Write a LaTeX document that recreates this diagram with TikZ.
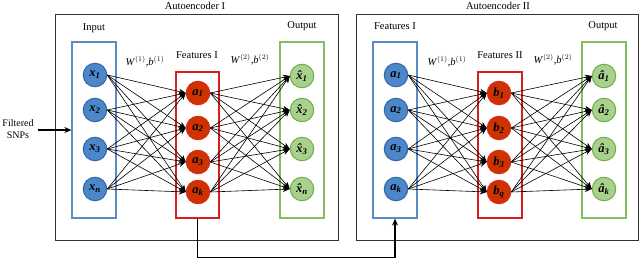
\documentclass[tikz,border=0pt]{standalone}
\usepackage{fontspec}
\setmainfont{Liberation Serif}
\usetikzlibrary{arrows.meta}
\definecolor{bluef}{HTML}{4C87C9}
\definecolor{bluel}{HTML}{2F67A8}
\definecolor{blueb}{HTML}{5B8CC4}
\definecolor{redf}{HTML}{CC3300}
\definecolor{redl}{HTML}{E02A1A}
\definecolor{redb}{HTML}{D91E1E}
\definecolor{greenf}{HTML}{A9D18E}
\definecolor{greenl}{HTML}{6FAE48}
\definecolor{greenb}{HTML}{82BE5E}
\tikzset{
  neuron/.style={circle,minimum size=23.5pt,inner sep=0pt,line width=1pt,font=\bfseries\itshape\fontsize{12.5}{13}\selectfont},
  bn/.style={neuron,draw=bluel,fill=bluef},
  rn/.style={neuron,draw=redl,fill=redf},
  gn/.style={neuron,draw=greenl,fill=greenf},
  layerbox/.style={draw,line width=1.2pt,minimum width=44pt},
  aebox/.style={draw=black!80,line width=1pt,minimum width=283pt,minimum height=225pt},
  lbl/.style={font=\fontsize{10.5}{12}\selectfont},
  edge/.style={-{Stealth[length=7pt,width=5.5pt]},line width=0.6pt},
  link/.style={line width=1.1pt},
}
\newcommand{\hatt}[1]{\^{#1}}
\begin{document}
\begin{tikzpicture}[x=1pt,y=-1pt]
\useasboundingbox (0,0) rectangle (640,259);
% Autoencoder I
\node[aebox] (ae1) at (196.5,127.5) {};
\node[lbl] (t1) at (195,6) {Autoencoder I};
\node[layerbox,draw=blueb,minimum height=176pt] (inbox) at (94,130) {};
\node[layerbox,draw=redb,minimum height=146pt,minimum width=43pt] (fbox) at (197.5,145) {};
\node[layerbox,draw=greenb,minimum height=176pt] (obox) at (302,130) {};
\node[lbl] (lin) at (94,28) {Input};
\node[lbl] (lf) at (197,55) {Features I};
\node[lbl] (lo) at (302,26) {Output};
\node[lbl] (w1) at (145,62) {\textit{W}$^{(1)}$,\textit{b}$^{(1)}$};
\node[lbl] (w2) at (250,60) {\textit{W}$^{(2)}$,\textit{b}$^{(2)}$};
\node[bn] (x1) at (95,75) {x\textsubscript{1}};
\node[bn] (x2) at (95,110) {x\textsubscript{2}};
\node[bn] (x3) at (95,149) {x\textsubscript{3}};
\node[bn] (x4) at (95,189) {x\textsubscript{n}};
\node[rn] (a1) at (198,93) {a\textsubscript{1}};
\node[rn] (a2) at (198,128) {a\textsubscript{2}};
\node[rn] (a3) at (198,162) {a\textsubscript{3}};
\node[rn] (a4) at (198,192) {a\textsubscript{k}};
\node[gn] (y1) at (302,76) {\hatt{x}\textsubscript{1}};
\node[gn] (y2) at (302,110) {\hatt{x}\textsubscript{2}};
\node[gn] (y3) at (302,149) {\hatt{x}\textsubscript{3}};
\node[gn] (y4) at (302,189) {\hatt{x}\textsubscript{n}};
\foreach \i in {1,...,4}{\foreach \j in {1,...,4}{
  \draw[edge] (x\i.east) -- (a\j.west);
  \draw[edge] (a\i.east) -- (y\j.west);
}}
\node[lbl,align=center,font=\fontsize{10}{12.5}\selectfont] (snp) at (18,129) {Filtered\\SNPs};
\coordinate (snpe) at (38,130);
\draw[link,-{Stealth[length=7pt,width=6pt]}] (snpe) -- (inbox.west |- snpe);
% Autoencoder II
\node[aebox,minimum width=282pt] (ae2) at (497,127.5) {};
\node[lbl] (t2) at (498,6) {Autoencoder II};
\node[layerbox,draw=blueb,minimum height=176pt] (inbox2) at (395,130) {};
\node[layerbox,draw=redb,minimum height=146pt] (fbox2) at (500,145) {};
\node[layerbox,draw=greenb,minimum height=176pt] (obox2) at (604,130) {};
\node[lbl] (lin2) at (395,26) {Features I};
\node[lbl] (lf2) at (500,55) {Features II};
\node[lbl] (lo2) at (603,26) {Output};
\node[lbl] (w3) at (447,62) {\textit{W}$^{(1)}$,\textit{b}$^{(1)}$};
\node[lbl] (w4) at (553,60) {\textit{W}$^{(2)}$,\textit{b}$^{(2)}$};
\node[bn] (p1) at (396,75) {a\textsubscript{1}};
\node[bn] (p2) at (396,110) {a\textsubscript{2}};
\node[bn] (p3) at (396,149) {a\textsubscript{3}};
\node[bn] (p4) at (396,189) {a\textsubscript{k}};
\node[rn] (b1) at (499,93) {b\textsubscript{1}};
\node[rn] (b2) at (499,128) {b\textsubscript{2}};
\node[rn] (b3) at (499,162) {b\textsubscript{3}};
\node[rn] (b4) at (499,192) {b\textsubscript{q}};
\node[gn] (q1) at (604,76) {\hatt{a}\textsubscript{1}};
\node[gn] (q2) at (604,110) {\hatt{a}\textsubscript{2}};
\node[gn] (q3) at (604,149) {\hatt{a}\textsubscript{3}};
\node[gn] (q4) at (604,189) {\hatt{a}\textsubscript{k}};
\foreach \i in {1,...,4}{\foreach \j in {1,...,4}{
  \draw[edge] (p\i.east) -- (b\j.west);
  \draw[edge] (b\i.east) -- (q\j.west);
}}
% link between autoencoders
\draw[link,-{Stealth[length=7pt,width=6pt]}] (fbox.south) -- ++(0,39) -| (inbox2.south);
\end{tikzpicture}
\end{document}
